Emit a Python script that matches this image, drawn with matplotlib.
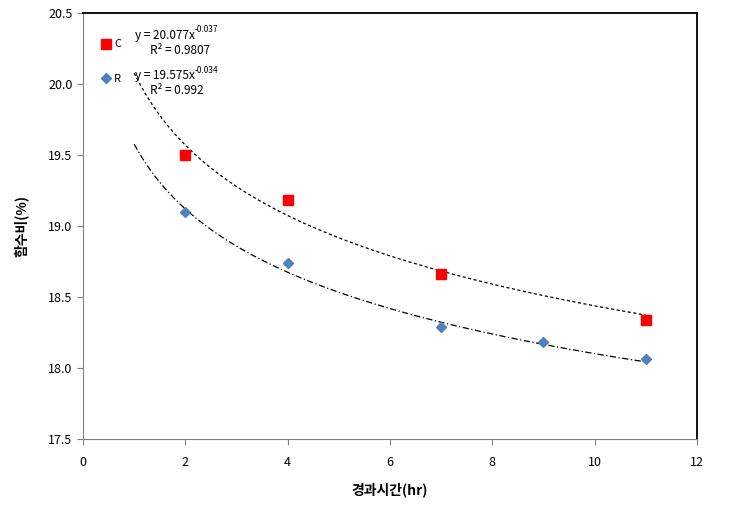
import numpy as np
import matplotlib.pyplot as plt

plt.rcParams['font.family'] = ['Noto Sans CJK KR', 'DejaVu Sans']

# measured points
c_x = [2, 4, 7, 11]
c_y = [19.50, 19.18, 18.66, 18.34]
r_x = [2, 4, 7, 9, 11]
r_y = [19.10, 18.74, 18.29, 18.18, 18.06]

# power trendlines y = a * x^b
c_a, c_b = 20.077, -0.037
r_a, r_b = 19.575, -0.034
trend_x = np.linspace(1, 11, 200)

fig = plt.figure(figsize=(7.55, 5.14), dpi=100)
ax = fig.add_axes([0.110, 0.146, 0.813, 0.829])

ax.plot(trend_x, c_a * trend_x ** c_b, color='black', lw=0.9, ls=(0, (2.5, 2)))
ax.plot(trend_x, r_a * trend_x ** r_b, color='black', lw=0.9, ls=(0, (5, 2, 1, 2)))

ax.plot(c_x, c_y, ls='none', marker='s', ms=7.5, color='#ff0000', label='C')
ax.plot(r_x, r_y, ls='none', marker='D', ms=5, color='#4f81bd', label='R')

ax.set_xlim(0, 12)
ax.set_ylim(17.5, 20.5)
ax.set_xticks(range(0, 13, 2))
ax.set_yticks(np.arange(17.5, 20.51, 0.5))
ax.set_yticklabels(['%.1f' % v for v in np.arange(17.5, 20.51, 0.5)])
ax.tick_params(labelsize=9, color='#808080', length=4, direction='out')
ax.tick_params(axis='x', pad=8)

for side in ['left', 'bottom']:
    ax.spines[side].set_color('#808080')
for side in ['top', 'right']:
    ax.spines[side].set_color('black')
    ax.spines[side].set_linewidth(1.3)

ax.set_xlabel('경과시간(hr)', fontsize=10, fontweight='bold', labelpad=10)
ax.set_ylabel('함수비(%)', fontsize=10, fontweight='bold', labelpad=14)

leg = ax.legend(loc='upper left', bbox_to_anchor=(0.011, 0.961), frameon=False,
                fontsize=8, handletextpad=0.1, labelspacing=2.2, handlelength=1.2)


def equation(y, a, b, r2):
    t = ax.text(0.085, y, 'y = %.3fx' % a, transform=ax.transAxes, fontsize=8.5, va='center')
    ax.annotate('%.3f' % b, xy=(1, 0.55), xycoords=t, fontsize=6, va='bottom', ha='left')
    ax.text(0.109, y - 0.036, 'R² = %s' % r2, transform=ax.transAxes, fontsize=8.5, va='center')


equation(0.948, c_a, c_b, '0.9807')
equation(0.853, r_a, r_b, '0.992')

fig.savefig('out.png', dpi=100)
